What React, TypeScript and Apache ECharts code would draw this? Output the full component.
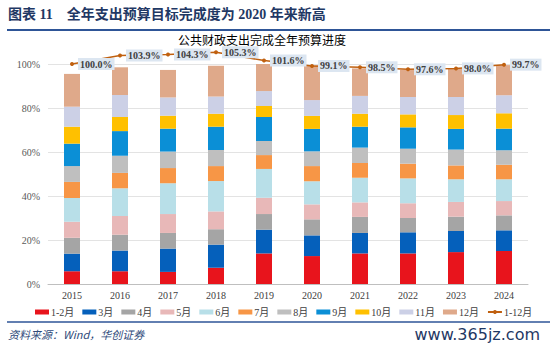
import React, { useEffect, useRef } from "react";
import * as echarts from "echarts";

const years = ["2015", "2016", "2017", "2018", "2019", "2020", "2021", "2022", "2023", "2024"];
const monthNames = ["1-2月", "3月", "4月", "5月", "6月", "7月", "8月", "9月", "10月", "11月", "12月"];
const m1_2 = [5.8, 5.8, 5.5, 7.4, 13.9, 12.7, 13.9, 13.9, 14.5, 15.0];
const m3 = [8.0, 9.4, 10.6, 10.5, 10.8, 9.4, 9.3, 9.6, 9.6, 9.4];
const m4 = [7.2, 7.2, 7.1, 7.0, 7.1, 7.3, 7.3, 6.5, 6.5, 6.8];
const m5 = [7.3, 8.5, 8.6, 8.1, 7.4, 6.8, 6.6, 6.7, 6.7, 6.5];
const m6 = [10.8, 12.6, 14.0, 13.8, 13.1, 10.5, 11.2, 11.3, 10.3, 9.9];
const m7 = [7.3, 7.0, 6.9, 6.8, 6.3, 6.9, 6.7, 6.7, 6.3, 6.6];
const m8 = [7.2, 7.8, 7.5, 7.3, 6.4, 6.7, 7.0, 6.8, 7.2, 6.6];
const m9 = [10.2, 11.2, 10.4, 10.6, 10.9, 10.2, 9.5, 9.7, 9.4, 9.8];
const m10 = [7.7, 6.4, 5.9, 5.9, 5.0, 5.9, 5.9, 5.9, 6.3, 7.0];
const m11 = [9.1, 10.0, 8.3, 7.8, 6.8, 7.2, 8.1, 7.9, 8.2, 8.2];
const m12 = [14.9, 12.6, 12.5, 14.0, 13.8, 15.9, 12.5, 12.3, 13.0, 13.7];
const fullYear = [100.0, 103.9, 104.3, 105.3, 101.6, 99.1, 98.5, 97.6, 98.0, 99.7];
const yTicks = [0, 20, 40, 60, 80, 100];

const monthData = [m1_2, m3, m4, m5, m6, m7, m8, m9, m10, m11, m12];
const monthColors = [
  "#e8141c", "#0560bb", "#a5a5a5", "#e8b8b8", "#b8dfe8", "#f79646",
  "#bfbfbf", "#0b8fd6", "#ffc000", "#ccd0e6", "#dfa98a",
];
const lineColor = "#c0600f";
const serif = '"Liberation Serif", "Times New Roman", "Noto Sans CJK SC", serif';

export default function App() {
  const ref = useRef<HTMLDivElement>(null);
  useEffect(() => {
    if (!ref.current) return;
    const chart = echarts.init(ref.current, null, { renderer: "svg" });
    const barSeries = monthNames.map((name, i) => ({
      name,
      type: "bar",
      stack: "total",
      barWidth: 16,
      data: monthData[i],
      itemStyle: { color: monthColors[i] },
    }));
    chart.setOption({
      animation: false,
      grid: { left: 48, right: 22, top: 64, bottom: 67 },
      graphic: [
        {
          type: "text",
          left: 8,
          top: 7,
          style: {
            text: "图表 11    全年支出预算目标完成度为 2020 年来新高",
            font: 'bold 14px "Liberation Serif", "Noto Sans CJK SC", serif',
            fill: "#1f3864",
          },
        },
        {
          type: "line",
          shape: { x1: 7, y1: 30, x2: 550, y2: 30 },
          style: { stroke: "#2e5597", lineWidth: 2 },
        },
        {
          type: "text",
          x: 262,
          y: 39,
          style: {
            text: "公共财政支出完成全年预算进度",
            font: '12px "Noto Sans CJK SC", serif',
            fill: "#000000",
            textAlign: "center",
            textVerticalAlign: "middle",
          },
        },
        {
          type: "line",
          shape: { x1: 7, y1: 322, x2: 550, y2: 322 },
          style: { stroke: "#2e5597", lineWidth: 1.5 },
        },
        {
          type: "text",
          x: 8,
          y: 334,
          style: {
            text: "资料来源：Wind，华创证券",
            font: 'italic 11px "Noto Sans CJK SC", serif',
            fill: "#2f4a7a",
            textVerticalAlign: "middle",
          },
        },
        {
          type: "text",
          x: 540,
          y: 334,
          style: {
            text: "www.365jz.com",
            font: '16px "DejaVu Sans", sans-serif',
            fill: "#1f3864",
            textAlign: "right",
            textVerticalAlign: "middle",
          },
        },
      ],
      legend: {
        top: 302,
        left: 30,
        itemWidth: 14,
        itemHeight: 5,
        itemGap: 8,
        textStyle: { fontFamily: serif, fontSize: 10, color: "#404040", padding: [0, 0, 0, -3] },
        data: [
          ...monthNames.map((n) => ({ name: n, icon: "rect" })),
          { name: "1-12月" },
        ],
      },
      xAxis: {
        type: "category",
        data: years,
        axisLine: { lineStyle: { color: "#bfbfbf" } },
        axisTick: { show: false },
        axisLabel: { fontFamily: serif, fontSize: 10, color: "#404040", margin: 6 },
      },
      yAxis: {
        type: "value",
        min: 0,
        max: 100,
        interval: 20,
        axisLine: { show: false },
        axisTick: { show: false },
        splitLine: { lineStyle: { color: "#e3e3e3" } },
        axisLabel: {
          fontFamily: serif,
          fontSize: 10,
          color: "#595959",
          margin: 8,
          formatter: (v: number) => (yTicks.includes(v) ? v + "%" : ""),
        },
      },
      series: [
        ...barSeries,
        {
          name: "1-12月",
          type: "line",
          data: fullYear,
          clip: false,
          z: 10,
          symbol: "circle",
          symbolSize: 4,
          lineStyle: { color: lineColor, width: 1.5 },
          itemStyle: { color: lineColor },
          label: {
            show: true,
            position: "right",
            distance: 4,
            formatter: (p: any) => p.value.toFixed(1) + "%",
            fontFamily: serif,
            fontWeight: "bold",
            fontSize: 10,
            color: "#404040",
            backgroundColor: "#dce6f1",
            padding: [1, 2],
          },
        },
      ],
    });
    return () => chart.dispose();
  }, []);
  return (
    <div
      ref={ref}
      style={{ position: "absolute", left: 0, top: 0, width: 550, height: 351, background: "#fff" }}
    />
  );
}
